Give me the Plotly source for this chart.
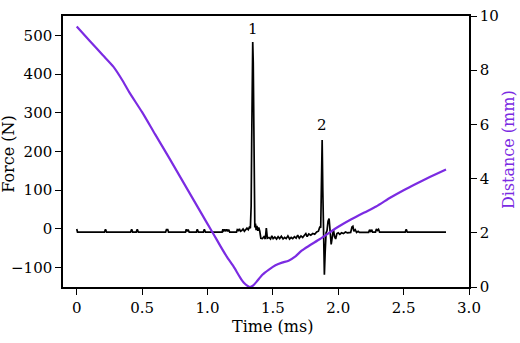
import plotly.graph_objects as go

# Force trace (N) sampled over time (ms)
force_time_ms = [
    0.000, 0.006,
    0.212, 0.220, 0.228,
    0.412, 0.420, 0.428,
    0.455, 0.463, 0.471,
    0.680, 0.686, 0.696, 0.702,
    0.832, 0.838, 0.845, 0.852, 0.860,
    0.915, 0.922, 0.930,
    0.968, 0.976, 0.984,
    1.112, 1.118, 1.125, 1.132, 1.140, 1.147, 1.155, 1.162, 1.170,
    1.222, 1.228, 1.236, 1.244, 1.252, 1.262, 1.272, 1.282, 1.292, 1.302, 1.312, 1.320, 1.328,
    1.334, 1.338, 1.342, 1.346, 1.350, 1.353, 1.357, 1.362, 1.367, 1.372, 1.378, 1.385, 1.392, 1.400, 1.408,
    1.420, 1.432, 1.442, 1.450, 1.458, 1.470, 1.482, 1.492, 1.502, 1.515, 1.528, 1.540, 1.552, 1.565,
    1.578, 1.590, 1.602, 1.615, 1.628, 1.640, 1.652, 1.665, 1.678, 1.690, 1.702, 1.715, 1.728, 1.740,
    1.752, 1.762, 1.775, 1.790, 1.805, 1.820, 1.835, 1.848, 1.860, 1.866,
    1.872, 1.877, 1.882, 1.888, 1.894, 1.900, 1.907, 1.914, 1.922, 1.930, 1.937, 1.946, 1.955, 1.963,
    1.972, 1.980, 1.990, 2.000, 2.012, 2.025, 2.040, 2.055, 2.070,
    2.095, 2.105, 2.112, 2.120, 2.130, 2.140, 2.152, 2.162,
    2.232, 2.240, 2.248, 2.255, 2.263,
    2.285, 2.292, 2.300, 2.308, 2.316,
    2.512, 2.520, 2.528, 2.824,
]
force_n = [
    0, -8,
    -8, -1, -8,
    -8, -1, -8,
    -8, -1, -8,
    -8, -2, -2, -8,
    -8, -1, -6, -2, -8,
    -8, -1, -8,
    -8, -1, -8,
    -8, -1, -5, -1, -6, -1, -6, -2, -8,
    -8, -2, -4, 0, -6, -4, 0, -6, -3, 2, -2, 4, 2,
    60, 220, 430, 483, 430, 230, 50, 4, 14, -3, 8, -5, 4, -6, -24,
    -25, -20, -26, 2, -24, -22, -26, -18, -25, -21, -26, -20, -25, -19,
    -26, -22, -25, -18, -26, -22, -25, -20, -24, -16, -24, -18, -22, -17,
    -12, -20, -13, -16, -12, -14, -8, -6, 6, 3,
    120, 230, 100, -40, -118, -60, -10, -5, 20, 27, -5, -40, -20, -2,
    -20, -26, -12, -10, -14, -10, -12, -8, -10,
    -9, 5, 7, -6, -2, -9, -6, -9,
    -9, -2, -8, -2, -8,
    -8, 0, -4, -1, -8,
    -8, -1, -8, -8,
]

# Distance (mm) over time (ms)
distance_time_ms = [
    0.0, 0.1, 0.2, 0.28, 0.35, 0.4, 0.5, 0.6, 0.7, 0.8, 0.9, 1.0, 1.05, 1.1, 1.15,
    1.2, 1.25, 1.28, 1.31, 1.325, 1.35, 1.38, 1.42, 1.47, 1.52, 1.57, 1.62, 1.67,
    1.72, 1.78, 1.86, 1.93, 2.01, 2.1, 2.2, 2.29, 2.4, 2.5, 2.6, 2.7, 2.824,
]
distance_mm = [
    9.61, 9.08, 8.55, 8.13, 7.62, 7.2, 6.45, 5.63, 4.82, 3.99, 3.16, 2.33, 1.92, 1.5, 1.1,
    0.75, 0.35, 0.15, 0.03, 0.0, 0.06, 0.22, 0.45, 0.64, 0.8, 0.9, 0.97, 1.12,
    1.34, 1.53, 1.77, 2.0, 2.25, 2.5, 2.75, 2.97, 3.3, 3.57, 3.82, 4.06, 4.34,
]

# Peak labels
peak_labels = ["1", "2"]
peak_label_time = [1.348, 1.878]
peak_label_force = [517, 268]

time_ticks = [0, 0.5, 1.0, 1.5, 2.0, 2.5, 3.0]
time_tick_text = ["0", "0.5", "1.0", "1.5", "2.0", "2.5", "3.0"]

PURPLE = "#7b2be2"
FONT = "DejaVu Serif"
FS = 15
FS_TITLE = 16

fig = go.Figure()
fig.add_trace(go.Scatter(
    x=force_time_ms, y=force_n, mode="lines",
    line=dict(color="black", width=1.7), yaxis="y", showlegend=False,
))
fig.add_trace(go.Scatter(
    x=distance_time_ms, y=distance_mm, mode="lines",
    line=dict(color=PURPLE, width=2.2, shape="spline", smoothing=0.6),
    yaxis="y2", showlegend=False,
))

for txt, tx, fy in zip(peak_labels, peak_label_time, peak_label_force):
    fig.add_annotation(x=tx, y=fy, xref="x", yref="y", text=txt, showarrow=False,
                       font=dict(family=FONT, size=FS, color="black"))

axis_common = dict(
    showgrid=False, zeroline=False, showline=True, linecolor="black", linewidth=1.5,
    ticks="outside", ticklen=6, tickwidth=1.3, tickcolor="black",
    tickfont=dict(family=FONT, size=FS, color="black"),
    ticklabeloverflow="allow",
)

fig.update_layout(
    width=520, height=343,
    margin=dict(l=63, r=51, t=7, b=56),
    paper_bgcolor="white", plot_bgcolor="white",
    xaxis=dict(range=[-0.105, 3.0], tickvals=time_ticks, ticktext=time_tick_text,
               mirror=True, **axis_common),
    yaxis=dict(range=[-150, 550], tickvals=[-100, 0, 100, 200, 300, 400, 500], **axis_common),
    yaxis2=dict(range=[0, 10], tickvals=[0, 2, 4, 6, 8, 10], overlaying="y", side="right",
                **axis_common),
)

# Axis titles
fig.add_annotation(x=0.517, y=-0.146, xref="paper", yref="paper", text="Time (ms)",
                   showarrow=False, yanchor="middle", xanchor="center",
                   font=dict(family=FONT, size=FS_TITLE, color="black"))
fig.add_annotation(x=-0.134, y=0.49, xref="paper", yref="paper", text="Force (N)",
                   showarrow=False, textangle=-90, xanchor="center", yanchor="middle",
                   font=dict(family=FONT, size=FS_TITLE, color="black"))
fig.add_annotation(x=1.0973, y=0.507, xref="paper", yref="paper", text="Distance (mm)",
                   showarrow=False, textangle=-90, xanchor="center", yanchor="middle",
                   font=dict(family=FONT, size=FS_TITLE, color=PURPLE))

fig.write_html("out.html")
